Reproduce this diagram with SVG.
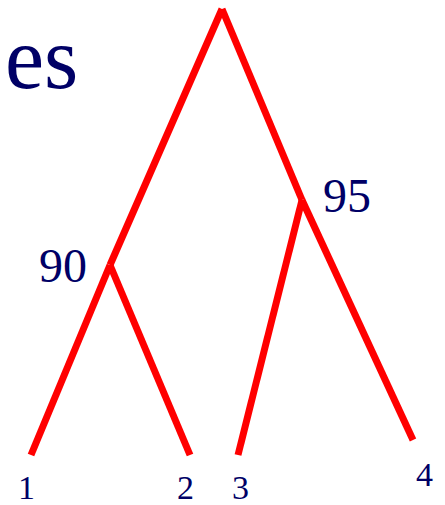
<svg xmlns="http://www.w3.org/2000/svg" width="445" height="505" viewBox="0 0 445 505">
<style>
.e{stroke:#ff0000;stroke-width:7;fill:none}
.t{fill:#000066;font-family:Liberation Serif}
.big{font-size:48px}
.leaf{font-size:34px}
</style>
<rect width="445" height="505" fill="#fff"/>
<g id="title"><text class="t" x="5" y="88" font-size="88" font-family="Liberation Serif">es</text></g>
<g id="n90"><text class="t big" x="39" y="282" font-family="Liberation Serif">90</text></g>
<g id="n95"><text class="t big" x="323" y="212" font-family="Liberation Serif">95</text></g>
<g id="leaf1"><text class="t leaf" x="18" y="499" font-family="Liberation Serif">1</text></g>
<g id="leaf2"><text class="t leaf" x="177" y="499" font-family="Liberation Serif">2</text></g>
<g id="leaf3"><text class="t leaf" x="232" y="499" font-family="Liberation Serif">3</text></g>
<g id="leaf4"><text class="t leaf" x="416" y="486" font-family="Liberation Serif">4</text></g>
<g id="connectors">
<path class="e" d="M222 9L110 265"/>
<path class="e" d="M110 265L31 455"/>
<path class="e" d="M110 265L190 455"/>
<path class="e" d="M222 9L302 200"/>
<path class="e" d="M302 200L413 440"/>
<path class="e" d="M302 200L238 455"/>
</g>
</svg>
